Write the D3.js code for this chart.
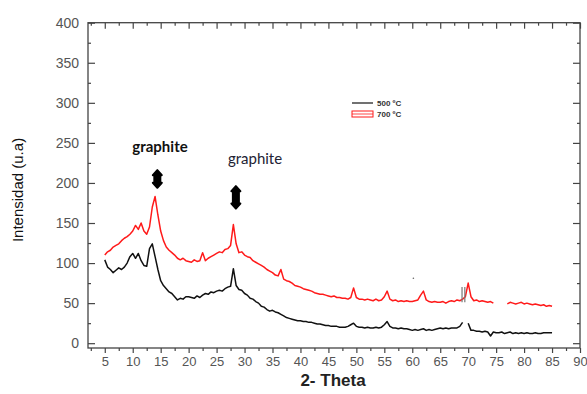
<!DOCTYPE html>
<html>
<head>
<meta charset="utf-8">
<script src="https://cdn.jsdelivr.net/npm/d3@7"></script>
<style>
  body { margin: 0; background: #fff; }
  svg { display: block; font-family: "Liberation Sans", Arial, sans-serif; }
</style>
</head>
<body>
<div id="area"></div>
<script>
// 2-theta grid: 5 .. 85 in 0.5 steps
var thetaStart = 5, thetaStep = 0.5;

// 500 ºC (black), one row per 5 degrees
var s500 = [
  104, 95, 92, 88, 91, 94, 92, 95, 100, 108,
  112, 106, 112, 103, 97, 96, 118, 124, 108, 92,
  78, 72, 68, 64, 62, 58, 54, 56, 55, 58,
  58, 57, 56, 59, 57, 60, 62, 61, 64, 63,
  65, 66, 65, 68, 70, 71, 93, 72, 67, 66,
  62, 60, 56, 55, 52, 50, 46, 45, 42, 40,
  41, 39, 38, 36, 34, 32, 31, 30, 29, 28,
  28, 27, 27, 26, 26, 25, 24, 24, 23, 22,
  22, 21, 21, 21, 20, 20, 20, 21, 23, 25,
  21, 20, 20, 19, 20, 19, 19, 20, 19, 20,
  23, 27, 21, 19, 19, 18, 19, 18, 18, 17,
  16, 17, 16, 17, 18, 16, 17, 16, 17, 18,
  19, 18, 19, 18, 19, 19, 19, 21, 26, null,
  25, 16, 16, 15, 15, 14, 15, 14, 9, 14,
  13, 13, 14, 12, 13, 14, 12, 13, 12, 13,
  12, 13, 12, 12, 13, 12, 12, 13, 13, 13,
  13
];

// 700 ºC (red)
var s700 = [
  110, 114, 116, 120, 122, 124, 128, 131, 133, 136,
  140, 147, 142, 150, 140, 136, 145, 170, 183, 160,
  140, 128, 120, 116, 113, 110, 106, 104, 106, 103,
  102, 101, 104, 102, 103, 113, 103, 106, 108, 110,
  112, 114, 113, 117, 118, 122, 148, 124, 113, 114,
  110, 108, 107, 103, 101, 99, 97, 95, 92, 90,
  88, 85, 84, 92, 80, 78, 77, 75, 72, 71,
  70, 68, 67, 66, 65, 63, 62, 61, 61, 60,
  59, 58, 59, 57, 57, 56, 56, 55, 57, 69,
  57, 55, 55, 54, 55, 54, 53, 55, 53, 54,
  58, 65, 55, 53, 54, 52, 53, 52, 53, 52,
  52, 53, 54, 60, 65, 54, 52, 51, 52, 51,
  51, 52, 50, 52, 53, 52, 54, 53, 55, 58,
  75, 58, 53, 54, 52, 53, 52, 51, 52, 50,
  null, null, null, null, 49, 51, 50, 49, 50, 51,
  49, 50, 49, 48, 49, 48, 47, 48, 46, 47,
  46
];

var xTicks = [5, 10, 15, 20, 25, 30, 35, 40, 45, 50, 55, 60, 65, 70, 75, 80, 85, 90];
var yTicks = [0, 50, 100, 150, 200, 250, 300, 350, 400];

var seriesNames = ["500 ºC", "700 ºC"];
var seriesColors = ["#111", "#ff1a1a"];

// annotations: label text, arrow position (theta, value)
var peakLabels = ["graphite", "graphite"];
var peakTheta = [14.4, 28.45];
var peakArrowTop = [216, 196];
var peakArrowBottom = [194, 168];
// grey marks near 69 deg on the red trace
var markTheta = [68.9, 69.4];
var markRange = [51, 70];

var W = 587, H = 394;
var margin = { left: 88, right: 7, top: 22.7, bottom: 46 };

var svg = d3.select("#area").append("svg")
  .attr("width", W).attr("height", H);

var x = d3.scaleLinear().domain([2, 90]).range([margin.left, W - margin.right]);
var y = d3.scaleLinear().domain([-6, 400]).range([H - margin.bottom, margin.top]);

var theta = s500.map(function (d, i) { return thetaStart + i * thetaStep; });

var axisColor = "#444";
var minorX = d3.range(2.5, 90, 5);
var minorY = d3.range(25, 400, 50);

function styleAxis(g) {
  g.select(".domain").remove();
  g.selectAll("line").attr("stroke", axisColor).attr("stroke-width", 1.2);
}

// bottom (outward ticks)
svg.append("g").attr("transform", "translate(0," + y.range()[0] + ")")
  .call(d3.axisBottom(x).tickValues(xTicks).tickSize(5).tickPadding(4).tickSizeOuter(0))
  .call(styleAxis)
  .call(function (g) {
    g.selectAll("text").attr("fill", "#555").style("font-size", "13px");
  });
svg.append("g").attr("transform", "translate(0," + y.range()[0] + ")")
  .call(d3.axisBottom(x).tickValues(minorX).tickSize(3).tickFormat("").tickSizeOuter(0))
  .call(styleAxis);

// top (inward)
svg.append("g").attr("transform", "translate(0," + y.range()[1] + ")")
  .call(d3.axisTop(x).tickValues(xTicks).tickSize(-6).tickFormat("").tickSizeOuter(0))
  .call(styleAxis);
svg.append("g").attr("transform", "translate(0," + y.range()[1] + ")")
  .call(d3.axisTop(x).tickValues(minorX).tickSize(-3).tickFormat("").tickSizeOuter(0))
  .call(styleAxis);

// left (inward)
svg.append("g").attr("transform", "translate(" + x.range()[0] + ",0)")
  .call(d3.axisLeft(y).tickValues(yTicks).tickSize(-7).tickPadding(9).tickSizeOuter(0))
  .call(styleAxis)
  .call(function (g) {
    g.selectAll("text").attr("fill", "#555").style("font-size", "14px");
  });
svg.append("g").attr("transform", "translate(" + x.range()[0] + ",0)")
  .call(d3.axisLeft(y).tickValues(minorY).tickSize(-3).tickFormat("").tickSizeOuter(0))
  .call(styleAxis);

// right (inward)
svg.append("g").attr("transform", "translate(" + x.range()[1] + ",0)")
  .call(d3.axisRight(y).tickValues(yTicks).tickSize(-7).tickFormat("").tickSizeOuter(0))
  .call(styleAxis);
svg.append("g").attr("transform", "translate(" + x.range()[1] + ",0)")
  .call(d3.axisRight(y).tickValues(minorY).tickSize(-3).tickFormat("").tickSizeOuter(0))
  .call(styleAxis);

// frame
svg.append("rect")
  .attr("x", x.range()[0]).attr("y", y.range()[1])
  .attr("width", x.range()[1] - x.range()[0])
  .attr("height", y.range()[0] - y.range()[1])
  .attr("fill", "none").attr("stroke", axisColor).attr("stroke-width", 1.3);

// curves
var line = d3.line()
  .defined(function (d) { return d[1] != null; })
  .x(function (d) { return x(d[0]); })
  .y(function (d) { return y(d[1]); });

[s500, s700].forEach(function (s, k) {
  svg.append("path")
    .datum(s.map(function (v, i) { return [theta[i], v]; }))
    .attr("d", line)
    .attr("fill", "none")
    .attr("stroke", seriesColors[k])
    .attr("stroke-width", 1.5)
    .attr("stroke-linejoin", "round");
});

// grey marks
markTheta.forEach(function (t) {
  svg.append("line")
    .attr("x1", x(t)).attr("x2", x(t))
    .attr("y1", y(markRange[0])).attr("y2", y(markRange[1]))
    .attr("stroke", "#777").attr("stroke-width", 1.2);
});
svg.append("circle").attr("cx", x(60.2)).attr("cy", y(81)).attr("r", 0.8).attr("fill", "#666");

// fat double-headed arrows
function arrowPath(cx, top, bottom) {
  var hw = 4.5, sw = 3, hh = 5;
  return "M" + cx + "," + top +
    " L" + (cx + hw) + "," + (top + hh) +
    " L" + (cx + sw) + "," + (top + hh) +
    " L" + (cx + sw) + "," + (bottom - hh) +
    " L" + (cx + hw) + "," + (bottom - hh) +
    " L" + cx + "," + bottom +
    " L" + (cx - hw) + "," + (bottom - hh) +
    " L" + (cx - sw) + "," + (bottom - hh) +
    " L" + (cx - sw) + "," + (top + hh) +
    " L" + (cx - hw) + "," + (top + hh) + " Z";
}
peakTheta.forEach(function (t, i) {
  svg.append("path")
    .attr("d", arrowPath(x(t), y(peakArrowTop[i]), y(peakArrowBottom[i])))
    .attr("fill", "#000").attr("stroke", "#000").attr("stroke-width", 2)
    .attr("stroke-linejoin", "round");
});
svg.append("text").attr("x", 160).attr("y", 152)
  .attr("text-anchor", "middle").attr("font-family", "Lato, sans-serif")
  .attr("font-weight", "bold").attr("font-size", 15).attr("fill", "#111")
  .text(peakLabels[0]);
svg.append("text").attr("x", 255).attr("y", 164)
  .attr("text-anchor", "middle").attr("font-family", "Lato, sans-serif")
  .attr("font-size", 15).attr("fill", "#222233")
  .text(peakLabels[1]);

// legend
var lg = svg.append("g").attr("transform", "translate(352,103)");
lg.append("line").attr("x1", 0).attr("x2", 21).attr("y1", 0).attr("y2", 0)
  .attr("stroke", seriesColors[0]).attr("stroke-width", 1.2);
lg.append("rect").attr("x", 0).attr("y", 8).attr("width", 21).attr("height", 6)
  .attr("fill", "none").attr("stroke", seriesColors[1]).attr("stroke-width", 1);
lg.append("line").attr("x1", 0).attr("x2", 21).attr("y1", 11).attr("y2", 11)
  .attr("stroke", seriesColors[1]).attr("stroke-width", 0.8);
seriesNames.forEach(function (n, i) {
  lg.append("text").attr("x", 25).attr("y", 3 + i * 11)
    .attr("font-size", 8).attr("font-weight", "bold").attr("fill", "#333")
    .text(n);
});

// axis titles
svg.append("text")
  .attr("transform", "translate(23,190) rotate(-90)")
  .attr("text-anchor", "middle").attr("font-size", 15).attr("fill", "#111")
  .text("Intensidad (u.a)");
svg.append("text")
  .attr("x", 333).attr("y", 386)
  .attr("text-anchor", "middle").attr("font-size", 17).attr("font-weight", "bold")
  .attr("fill", "#222")
  .text("2- Theta");
</script>
</body>
</html>
